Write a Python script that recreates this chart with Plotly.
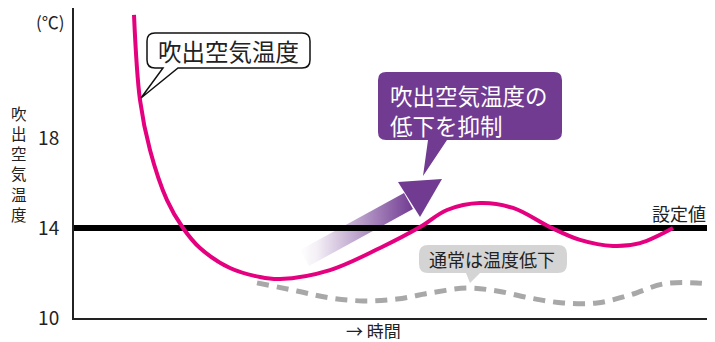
import plotly.graph_objects as go

# time axis is in arbitrary units (0 = start of the chart)
time_air = [60, 66, 76, 93, 109, 126, 156, 186, 206, 256, 306, 346, 373, 406, 439, 476, 506, 539, 566, 599]
temp_air = [23.47, 19.69, 17.47, 15.24, 14.0, 13.11, 12.22, 11.82, 11.73, 12.13, 13.11, 14.04, 14.8, 15.11,
            14.89, 14.04, 13.47, 13.2, 13.33, 14.0]

time_normal = [183, 223, 256, 289, 323, 356, 393, 423, 456, 489, 523, 556, 589, 623, 641]
temp_normal = [11.56, 11.2, 10.89, 10.76, 10.84, 11.11, 11.33, 11.2, 10.89, 10.67, 10.67, 11.02, 11.51,
               11.56, 11.47]

setpoint = 14
y_ticks = [10, 14, 18]
y_title = "吹出空気温度"

# the page body has an 8px margin, so the figure is drawn smaller than the window
PAGE = 8
FIG_W, FIG_H = 715 - 2 * PAGE, 342 - PAGE
# plot area in window pixels
PX0, PX1, PY0, PY1 = 74, PAGE + FIG_W, 8, 318
X_RANGE = [0, PX1 - PX0]
Y_RANGE = [10, 10 + (PY1 - PY0) / 22.5]

FONT = "Noto Sans CJK JP"
MAGENTA = "#e4007f"
PURPLE = "#713b92"
GRAY = "#a8a8a8"


def to_data(px, py):
    x = X_RANGE[0] + (px - PX0) / (PX1 - PX0) * (X_RANGE[1] - X_RANGE[0])
    y = Y_RANGE[0] + (PY1 - py) / (PY1 - PY0) * (Y_RANGE[1] - Y_RANGE[0])
    return x, y


def to_paper(px, py):
    return (px - PX0) / (PX1 - PX0), (PY1 - py) / (PY1 - PY0)


def bubble_path(x0, y0, x1, y1, r, bx0, bx1, tx, ty):
    pts = [("M", [(x0 + r, y0)]), ("L", [(x1 - r, y0)]), ("Q", [(x1, y0), (x1, y0 + r)]),
           ("L", [(x1, y1 - r)]), ("Q", [(x1, y1), (x1 - r, y1)]), ("L", [(bx1, y1)]),
           ("L", [(tx, ty)]), ("L", [(bx0, y1)]), ("L", [(x0 + r, y1)]),
           ("Q", [(x0, y1), (x0, y1 - r)]), ("L", [(x0, y0 + r)]), ("Q", [(x0, y0), (x0 + r, y0)])]
    out = ""
    for cmd, ps in pts:
        out += cmd + " " + " ".join("%.3f,%.3f" % to_data(*p) for p in ps) + " "
    return out + "Z"


def poly_path(points):
    return "M " + " L ".join("%.3f,%.3f" % to_data(*p) for p in points) + " Z"


fig = go.Figure()

# gradient arrow shaft
shaft = [(300, 250), (404, 193), (413, 209), (309, 266), (300, 250)]
sx, sy = zip(*[to_data(*p) for p in shaft])
fig.add_trace(go.Scatter(x=sx, y=sy, mode="lines", line=dict(width=0), fill="toself",
                         fillgradient=dict(type="horizontal",
                                           colorscale=[[0, "rgba(113,59,146,0)"], [0.15, "rgba(113,59,146,0.08)"],
                                                       [1, "rgba(113,59,146,1)"]]),
                         hoverinfo="skip", showlegend=False))

fig.add_trace(go.Scatter(x=X_RANGE, y=[setpoint, setpoint], mode="lines",
                         line=dict(color="black", width=6), showlegend=False))
fig.add_trace(go.Scatter(x=time_normal, y=temp_normal, mode="lines",
                         line=dict(color=GRAY, width=5, dash="12px,8px", shape="spline"), showlegend=False))
fig.add_trace(go.Scatter(x=time_air, y=temp_air, mode="lines",
                         line=dict(color=MAGENTA, width=4, shape="spline"), showlegend=False))

shapes = [
    dict(type="path", path=poly_path([(398, 182), (442, 179), (420, 217)]),
         fillcolor=PURPLE, line=dict(width=0), layer="above"),
    dict(type="path", path=bubble_path(147, 33, 310, 68, 8, 163, 178, 141, 98),
         fillcolor="white", line=dict(color="#111", width=1.5), layer="above"),
    dict(type="path", path=bubble_path(378, 72, 562, 140, 8, 428, 447, 423, 176),
         fillcolor=PURPLE, line=dict(width=0), layer="above"),
    dict(type="path", path=bubble_path(419, 245, 567, 273, 9, 466, 480, 470, 283),
         fillcolor="#d4d4d4", line=dict(width=0), layer="above"),
]


def note(text, px, py, size, color="#222", xanchor="center", align="center", height=None):
    x, y = to_paper(px, py)
    return dict(text=text, x=x, y=y, xref="paper", yref="paper", showarrow=False,
                xanchor=xanchor, yanchor="middle", align=align, height=height,
                font=dict(family=FONT, size=size, color=color))


annotations = [
    note("(℃)", 50, 21, 17),
    note("<br>".join(y_title), 19, 164, 15.5),
    note("吹出空気温度", 228, 51, 23.5),
    note("吹出空気温度の", 388, 95, 22.5, color="white", xanchor="left"),
    note("低下を抑制", 388, 125, 22.5, color="white", xanchor="left"),
    note("通常は温度低下", 492, 259, 18),
    note("設定値", 679, 213, 18),
    note("→ 時間", 373, 330, 17, height=18),
]

fig.update_layout(
    width=FIG_W, height=FIG_H,
    margin=dict(l=PX0 - PAGE, r=FIG_W - (PX1 - PAGE), t=PY0 - PAGE, b=FIG_H - (PY1 - PAGE)),
    plot_bgcolor="white", paper_bgcolor="white",
    shapes=shapes, annotations=annotations,
    font=dict(family=FONT, color="#222"),
    xaxis=dict(range=X_RANGE, showline=True, linecolor="#222", linewidth=2, showgrid=False,
               zeroline=False, showticklabels=False, ticks=""),
    yaxis=dict(range=Y_RANGE, showline=True, linecolor="#222", linewidth=2, showgrid=False,
               zeroline=False, tickvals=y_ticks, ticks="", ticklabelstandoff=9,
               tickfont=dict(family=FONT, size=19, color="#222")),
)

fig.write_html("out.html")
